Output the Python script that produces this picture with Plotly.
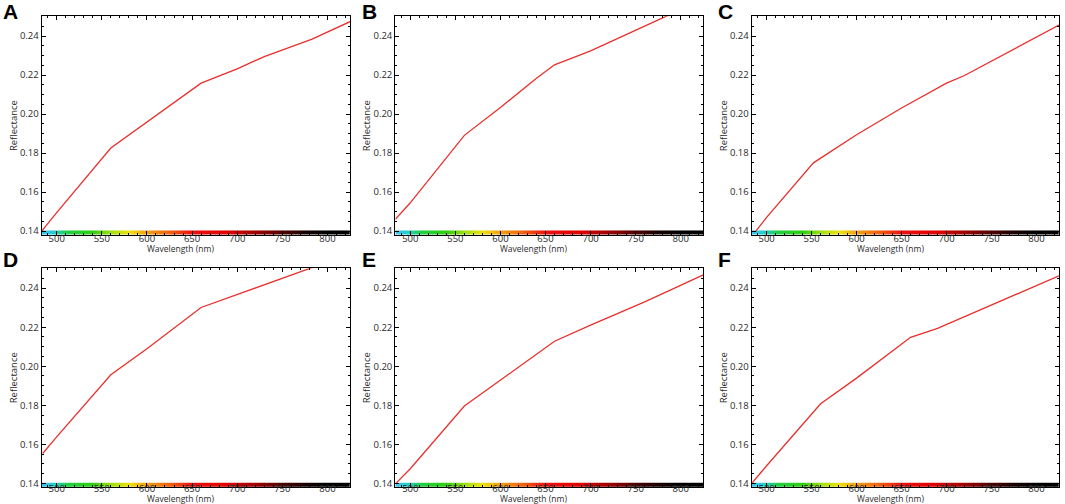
import plotly.graph_objects as go
from plotly.subplots import make_subplots

# Reflectance spectra, one per panel (wavelength nm, reflectance)
wl_A = [483.4, 500, 560, 600, 630, 660, 700, 730, 783, 825]
refl_A = [0.1400, 0.1495, 0.1826, 0.1960, 0.2060, 0.2159, 0.2232, 0.2295, 0.2385, 0.2474]

wl_B = [483.4, 500, 560, 600, 640, 660, 700, 783, 825]
refl_B = [0.1460, 0.1545, 0.1891, 0.2034, 0.2184, 0.2253, 0.2324, 0.2500, 0.2580]

wl_C = [488, 500, 552, 600, 650, 700, 720, 825]
refl_C = [0.1400, 0.1470, 0.1750, 0.1894, 0.2031, 0.2159, 0.2198, 0.2457]

wl_D = [484.5, 500, 560, 600, 660, 700, 783, 825]
refl_D = [0.1553, 0.1638, 0.1956, 0.2089, 0.2301, 0.2367, 0.2505, 0.2575]

wl_E = [484, 500, 560, 600, 660, 700, 760, 825]
refl_E = [0.1400, 0.1475, 0.1796, 0.1927, 0.2128, 0.2211, 0.2330, 0.2468]

wl_F = [483.4, 500, 560, 600, 660, 690, 825]
refl_F = [0.1400, 0.1490, 0.1808, 0.1939, 0.2148, 0.2194, 0.2463]

panels = ["A", "B", "C", "D", "E", "F"]
wavelengths = [wl_A, wl_B, wl_C, wl_D, wl_E, wl_F]
reflectances = [refl_A, refl_B, refl_C, refl_D, refl_E, refl_F]

# spectrum strip along the bottom axis
strip_wl = [483, 497, 512, 540, 560, 580, 600, 625, 650, 690, 720, 750, 775, 800, 825]
strip_colors = ["#40c4f0", "#20d0d0", "#20d040", "#30d010", "#a0e010", "#f0e010",
                "#f0a010", "#f06010", "#f01010", "#e00000", "#a00000", "#500000",
                "#180000", "#000000", "#000000"]

X_RANGE = [483.4, 825]
Y_RANGE = [0.138, 0.2502]
BAND = [0.138, 0.1392, 0.1403]

W, H = 1065, 504


def px_x(p):
    return p / W


def px_y(p):
    return 1 - p / H


# panel boxes in window pixels
col_px = [[41.7, 350], [395.3, 703.3], [751.7, 1059]]
row_px = [[16.3, 235.9], [269.3, 489.2]]
letter_x = [1, 360, 716]
letter_y = [-2, 247]
xtitle_dx = 138.5          # x title sits left of the panel centre
xtitle_y = [249.5, 500.5]
label_shift = [-5, -8]     # tick labels tucked under the colour strip

wmin, wmax = strip_wl[0], strip_wl[-1]
cscale = [[(w - wmin) / (wmax - wmin), c] for w, c in zip(strip_wl, strip_colors)]

fig = make_subplots(rows=2, cols=3)

for i, name in enumerate(panels):
    r, c = i // 3 + 1, i % 3 + 1
    # colour strip
    fig.add_trace(go.Heatmap(x=strip_wl, y=BAND, z=[strip_wl, strip_wl],
                             colorscale=cscale, zmin=wmin, zmax=wmax, zsmooth="best",
                             showscale=False, hoverinfo="skip"), row=r, col=c)
    fig.add_trace(go.Scatter(x=wavelengths[i], y=reflectances[i], mode="lines",
                             line=dict(color="#e8302c", width=1.3),
                             showlegend=False), row=r, col=c)

    x0, x1 = col_px[c - 1]
    y0, y1 = row_px[r - 1]
    fig.update_xaxes(domain=[px_x(x0), px_x(x1)], range=X_RANGE,
                     ticklabelstandoff=label_shift[r - 1], row=r, col=c)
    fig.update_yaxes(domain=[px_y(y1), px_y(y0)], range=Y_RANGE, row=r, col=c)

    # panel letter
    fig.add_annotation(text=f"<b>{name}</b>", xref="paper", yref="paper",
                       x=px_x(letter_x[c - 1]), y=px_y(letter_y[r - 1]),
                       xanchor="left", yanchor="top", showarrow=False,
                       font=dict(family="Liberation Sans, Arial", size=21, color="black"))
    # x axis title
    fig.add_annotation(text="Wavelength (nm)", xref="paper", yref="paper",
                       x=px_x(x0 + xtitle_dx), y=px_y(xtitle_y[r - 1]),
                       xanchor="center", yanchor="middle", showarrow=False,
                       font=dict(family="Open Sans", size=8.5, color="#2a2a2a"))

tick_font = dict(family="Open Sans", size=9.5, color="#2a2a2a")
title_font = dict(family="Open Sans", size=9.5, color="#2a2a2a")

fig.update_xaxes(
    tickvals=[500, 550, 600, 650, 700, 750, 800],
    ticks="inside", ticklen=4, tickcolor="black",
    minor=dict(dtick=10, tick0=500, ticks="inside", ticklen=2, tickcolor="black"),
    showline=True, linecolor="black", linewidth=1.2, mirror="ticks",
    showgrid=False, zeroline=False, tickfont=tick_font,
)
fig.update_yaxes(
    tickvals=[0.14, 0.16, 0.18, 0.20, 0.22, 0.24], tickformat=".2f",
    ticks="inside", ticklen=4, tickcolor="black",
    minor=dict(dtick=0.005, tick0=0.14, ticks="inside", ticklen=2, tickcolor="black"),
    showline=True, linecolor="black", linewidth=1.2, mirror="ticks",
    showgrid=False, zeroline=False, tickfont=tick_font,
    title=dict(text="Reflectance", font=title_font, standoff=0),
)

fig.update_layout(
    width=W, height=H,
    margin=dict(l=0, r=0, t=0, b=0),
    plot_bgcolor="white", paper_bgcolor="white",
    showlegend=False,
)

# pin the figure to the window corner, out of the page flow
pin = ("document.body.style.margin='0';document.body.style.overflow='hidden';"
       "var g=document.querySelector('.plotly-graph-div');"
       "g.style.position='fixed';g.style.left='0';g.style.top='0';")
fig.write_html("out.html", config={"displayModeBar": False}, post_script=pin)
